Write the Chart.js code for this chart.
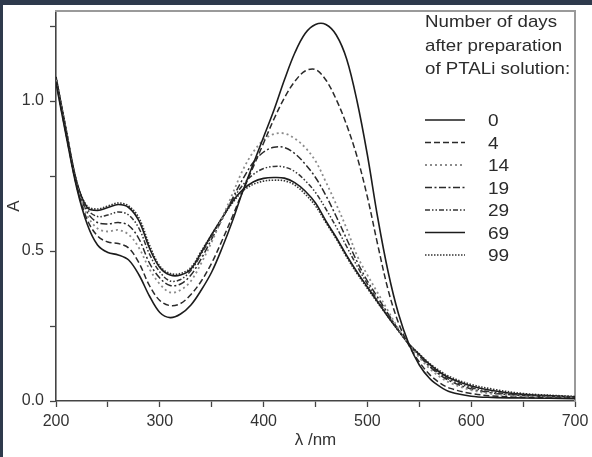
<!DOCTYPE html>
<html>
<head>
<meta charset="utf-8">
<script src="https://cdn.jsdelivr.net/npm/chart.js@4.4.0/dist/chart.umd.min.js"></script>
<style>
  html, body { margin: 0; padding: 0; background: #2e3a4c; overflow: hidden; }
  #frame { position: absolute; left: 3px; top: 5px; width: 589px; height: 452px; background: #fff; }
</style>
</head>
<body>
<div id="frame"><canvas id="spectra" width="589" height="452"></canvas></div>
<script>
// wavelength grid (nm) shared by all spectra
const wavelengths = [200, 210, 220, 230, 240, 250, 260, 270, 280, 290, 300, 310, 320, 330, 340, 350, 360, 370, 380, 390,
  400, 410, 420, 430, 440, 450, 460, 470, 480, 490, 500, 510, 520, 530, 540, 550, 560, 570, 580, 600, 620, 650, 700];

// absorbance, one array per age of the solution
const absDay0 = [1.06, 0.88, 0.71, 0.59, 0.52, 0.495, 0.487, 0.47, 0.42, 0.35, 0.295, 0.278, 0.29, 0.32, 0.37, 0.43, 0.51, 0.60, 0.70, 0.79,
  0.88, 0.97, 1.07, 1.16, 1.225, 1.255, 1.255, 1.22, 1.14, 1.00, 0.82, 0.61, 0.43, 0.29, 0.19, 0.12, 0.075, 0.048, 0.03, 0.016, 0.012, 0.01, 0.008];
const absDay4 = [1.065, 0.885, 0.715, 0.605, 0.55, 0.53, 0.525, 0.51, 0.46, 0.385, 0.335, 0.318, 0.325, 0.355, 0.40, 0.46, 0.535, 0.615, 0.70, 0.78,
  0.86, 0.94, 1.01, 1.065, 1.10, 1.105, 1.07, 1.005, 0.92, 0.815, 0.68, 0.52, 0.37, 0.26, 0.185, 0.13, 0.088, 0.06, 0.042, 0.025, 0.017, 0.012, 0.009];
const absDay14 = [1.07, 0.89, 0.72, 0.62, 0.575, 0.565, 0.57, 0.555, 0.51, 0.44, 0.39, 0.362, 0.37, 0.40, 0.46, 0.53, 0.61, 0.69, 0.77, 0.83,
  0.87, 0.89, 0.892, 0.875, 0.845, 0.80, 0.73, 0.655, 0.575, 0.485, 0.42, 0.36, 0.30, 0.24, 0.19, 0.145, 0.108, 0.08, 0.06, 0.036, 0.024, 0.016, 0.011];
const absDay19 = [1.07, 0.89, 0.72, 0.63, 0.595, 0.59, 0.595, 0.585, 0.54, 0.46, 0.41, 0.385, 0.39, 0.42, 0.475, 0.54, 0.605, 0.675, 0.74, 0.795,
  0.83, 0.846, 0.845, 0.825, 0.79, 0.745, 0.685, 0.615, 0.54, 0.465, 0.40, 0.345, 0.29, 0.237, 0.19, 0.15, 0.115, 0.087, 0.066, 0.04, 0.027, 0.018, 0.012];
const absDay29 = [1.075, 0.895, 0.725, 0.64, 0.615, 0.62, 0.63, 0.62, 0.575, 0.49, 0.43, 0.40, 0.405, 0.435, 0.49, 0.55, 0.61, 0.67, 0.72, 0.755,
  0.775, 0.782, 0.78, 0.765, 0.735, 0.695, 0.64, 0.58, 0.515, 0.45, 0.39, 0.335, 0.285, 0.235, 0.19, 0.152, 0.118, 0.09, 0.07, 0.045, 0.03, 0.02, 0.013];
const absDay69 = [1.08, 0.90, 0.73, 0.645, 0.635, 0.645, 0.655, 0.645, 0.60, 0.51, 0.445, 0.42, 0.42, 0.44, 0.495, 0.555, 0.61, 0.665, 0.705, 0.73,
  0.742, 0.745, 0.743, 0.728, 0.70, 0.66, 0.60, 0.545, 0.485, 0.43, 0.38, 0.33, 0.28, 0.235, 0.19, 0.155, 0.122, 0.095, 0.075, 0.05, 0.035, 0.022, 0.014];
const absDay99 = [1.08, 0.90, 0.73, 0.65, 0.64, 0.65, 0.66, 0.65, 0.61, 0.52, 0.45, 0.425, 0.425, 0.445, 0.50, 0.555, 0.61, 0.66, 0.70, 0.722,
  0.733, 0.736, 0.734, 0.72, 0.69, 0.65, 0.595, 0.54, 0.48, 0.425, 0.375, 0.327, 0.28, 0.233, 0.19, 0.157, 0.125, 0.10, 0.08, 0.055, 0.04, 0.025, 0.015];

const dayLabels = ['0', '4', '14', '19', '29', '69', '99'];
const legendTitle = ['Number of days', 'after preparation', 'of PTALi solution:'];

const xTickValues = [200, 250, 300, 350, 400, 450, 500, 550, 600, 650, 700];
const xMajorTicks = [200, 300, 400, 500, 600, 700];
const yTickValues = [0, 0.25, 0.5, 0.75, 1.0, 1.25];
const yMajorTicks = [0, 0.5, 1.0];

Chart.defaults.font.family = "'Liberation Sans', Arial, sans-serif";
Chart.defaults.color = '#333';

const toPoints = (arr) => wavelengths.map((w, i) => ({ x: w, y: arr[i] }));

const lineStyle = (color, dash, width) => ({
  borderColor: color,
  borderDash: dash,
  borderWidth: width,
  pointRadius: 0,
  fill: false,
  tension: 0.35
});

// fixed box size for an axis, no extra label overhang
const fixSize = (w, h) => (s) => {
  if (w !== null) s.width = w;
  if (h !== null) s.height = h;
  s.paddingLeft = 0;
  s.paddingRight = 0;
  s.paddingTop = 0;
  s.paddingBottom = 0;
};

// draws the legend box in the upper right like the original figure
function stretchText(ctx, text, x, y, sx) {
  ctx.save();
  ctx.translate(x, y);
  ctx.scale(sx, 1);
  ctx.fillText(text, 0, 0);
  ctx.restore();
}

const daysLegend = {
  id: 'daysLegend',
  afterDraw(chart) {
    const ctx = chart.ctx;
    ctx.save();
    ctx.fillStyle = '#2b2b2b';
    ctx.font = "17px 'Liberation Sans', Arial, sans-serif";
    ctx.textBaseline = 'alphabetic';
    legendTitle.forEach((line, i) => stretchText(ctx, line, 422, 22 + i * 23.5, 1.1));
    chart.data.datasets.forEach((ds, i) => {
      const y = 115 + i * 22.5;
      ctx.beginPath();
      ctx.setLineDash(ds.borderDash);
      ctx.strokeStyle = ds.borderColor;
      ctx.lineWidth = ds.borderWidth;
      ctx.moveTo(422, y);
      ctx.lineTo(462, y);
      ctx.stroke();
      ctx.setLineDash([]);
      stretchText(ctx, ds.label, 485, y + 6, 1.12);
    });
    ctx.restore();
  }
};

new Chart(document.getElementById('spectra'), {
  type: 'line',
  data: {
    datasets: [
      { label: dayLabels[0], data: toPoints(absDay0), ...lineStyle('#1c1c1c', [], 1.6) },
      { label: dayLabels[1], data: toPoints(absDay4), ...lineStyle('#2a2a2a', [6, 3], 1.5) },
      { label: dayLabels[2], data: toPoints(absDay14), ...lineStyle('#8c8c8c', [2, 3], 1.8) },
      { label: dayLabels[3], data: toPoints(absDay19), ...lineStyle('#2a2a2a', [7, 2.5, 2, 2.5], 1.5) },
      { label: dayLabels[4], data: toPoints(absDay29), ...lineStyle('#333333', [5, 2, 1.5, 2, 1.5, 2], 1.5) },
      { label: dayLabels[5], data: toPoints(absDay69), ...lineStyle('#1c1c1c', [], 1.6) },
      { label: dayLabels[6], data: toPoints(absDay99), ...lineStyle('#333333', [1.5, 1.5], 1.6) }
    ]
  },
  options: {
    responsive: false,
    animation: false,
    layout: { padding: 0 },
    plugins: { legend: { display: false }, tooltip: { enabled: false } },
    scales: {
      x: {
        type: 'linear',
        position: 'bottom',
        min: 200,
        max: 700,
        afterBuildTicks: (s) => { s.ticks = xTickValues.map(v => ({ value: v })); },
        afterFit: fixSize(null, 56),
        ticks: {
          autoSkip: false,
          maxRotation: 0,
          padding: 5,
          font: { size: 16 },
          callback: (v) => xMajorTicks.includes(v) ? String(v) : ''
        },
        grid: { drawOnChartArea: false, drawTicks: true, tickLength: 6, tickColor: '#444', tickWidth: 1.3 },
        border: { color: '#444', width: 1.6 },
        title: { display: true, text: 'λ /nm', font: { size: 17 }, padding: { top: 0, bottom: 6 } }
      },
      y: {
        type: 'linear',
        position: 'left',
        min: 0,
        max: 1.3,
        afterBuildTicks: (s) => { s.ticks = yTickValues.map(v => ({ value: v })); },
        afterFit: fixSize(53, null),
        ticks: {
          autoSkip: false,
          padding: 6,
          font: { size: 16 },
          callback: (v) => yMajorTicks.includes(v) ? v.toFixed(1) : ''
        },
        grid: { drawOnChartArea: false, drawTicks: true, tickLength: 6, tickColor: '#444', tickWidth: 1.3 },
        border: { color: '#444', width: 1.6 },
        title: { display: true, text: 'A', font: { size: 17 }, padding: { top: 1, bottom: 0 } }
      },
      x2: {
        type: 'linear',
        position: 'top',
        min: 200,
        max: 700,
        afterFit: fixSize(null, 6),
        ticks: { display: false },
        grid: { display: false },
        border: { color: '#9a9a9a', width: 2 }
      },
      y2: {
        type: 'linear',
        position: 'right',
        min: 0,
        max: 1.3,
        afterFit: fixSize(17, null),
        ticks: { display: false },
        grid: { display: false },
        border: { color: '#9a9a9a', width: 2 }
      }
    }
  },
  plugins: [daysLegend]
});
</script>
</body>
</html>
